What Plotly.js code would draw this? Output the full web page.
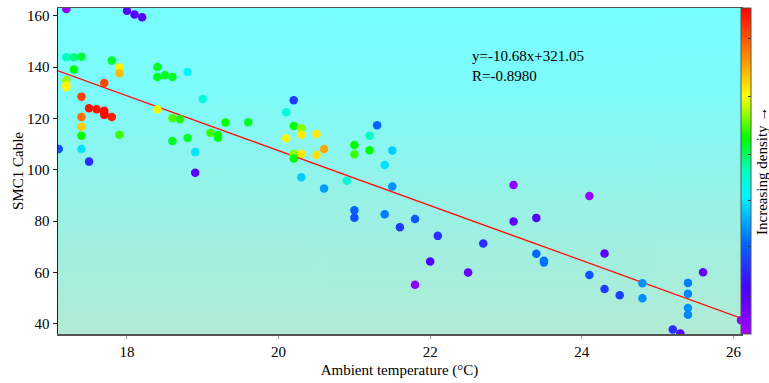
<!DOCTYPE html>
<html>
<head>
<meta charset="utf-8">
<script src="https://cdn.plot.ly/plotly-3.0.1.min.js"></script>
<style>
  html, body { margin: 0; padding: 0; background: #ffffff; }
  #chart { width: 769px; height: 383px; }
</style>
</head>
<body>
<div id="chart"></div>
<script>
// Ambient temperature (°C) for each sample
const temperature = [
  17.2, 18.0, 18.1, 18.2, 17.2, 17.3, 17.4, 17.3, 17.2, 17.2,
  17.2, 17.4, 17.4, 17.4, 17.4, 17.4, 17.1, 17.5, 17.5, 17.6,
  17.7, 17.7, 17.7, 17.8, 17.7, 17.8, 17.9, 17.9, 17.9, 18.4,
  18.4, 18.5, 18.6, 18.4, 18.6, 18.7, 18.6, 18.8, 18.8, 19.0,
  18.9, 18.9, 19.1, 19.2, 19.2, 19.3, 19.6, 20.2, 20.1, 20.2,
  20.3, 20.1, 20.3, 20.5, 20.6, 20.5, 20.3, 20.2, 20.2, 20.3,
  20.6, 20.9, 21.0, 21.0, 21.2, 21.2, 21.3, 21.5, 21.4, 21.5,
  23.1, 21.0, 21.0, 21.4, 21.8, 21.6, 22.1, 22.7, 22.0, 22.5,
  21.8, 23.1, 24.1, 23.4, 23.4, 23.5, 23.5, 24.3, 24.1, 24.3,
  24.5, 24.8, 24.8, 25.4, 25.4, 25.4, 25.4, 25.6, 25.2, 25.3,
  26.1
];

// SMC1 cable reading for each sample
const smcCable = [
  162.6, 161.9, 160.5, 159.4, 143.8, 143.8, 144.0, 139.1, 134.9, 132.8,
  132.2, 128.5, 120.6, 116.8, 113.3, 108.1, 108.1, 103.2, 124.0, 123.6,
  123.0, 122.0, 121.4, 120.6, 133.8, 142.6, 139.9, 137.6, 113.7, 140.0,
  136.1, 136.8, 136.1, 123.6, 120.1, 119.7, 111.2, 112.4, 138.1, 127.6,
  106.9, 98.9, 114.4, 113.6, 112.5, 118.4, 118.5, 127.1, 122.4, 117.1,
  116.2, 112.3, 113.7, 114.0, 108.1, 105.8, 106.3, 106.2, 104.4, 97.1,
  92.7, 95.8, 109.7, 106.1, 113.3, 107.6, 117.4, 107.5, 101.9, 93.5,
  94.1, 84.3, 81.4, 82.7, 80.9, 77.7, 74.3, 71.3, 64.3, 60.0,
  55.3, 79.9, 89.8, 81.3, 67.3, 64.6, 63.9, 67.4, 59.1, 53.6,
  51.2, 55.9, 50.0, 56.0, 51.8, 46.2, 43.6, 60.1, 37.9, 36.3,
  41.5
];

// Relative point density (0 = sparse, 1 = dense)
const density = [
  0.03, 0.12, 0.12, 0.12, 0.50, 0.53, 0.57, 0.60, 0.68, 0.74,
  0.74, 0.93, 0.88, 0.78, 0.60, 0.40, 0.25, 0.20, 0.98, 0.98,
  0.99, 0.99, 0.99, 0.97, 0.92, 0.58, 0.74, 0.80, 0.63, 0.58,
  0.58, 0.58, 0.58, 0.72, 0.64, 0.62, 0.58, 0.58, 0.42, 0.47,
  0.40, 0.12, 0.63, 0.60, 0.60, 0.60, 0.58, 0.22, 0.47, 0.60,
  0.67, 0.74, 0.75, 0.75, 0.82, 0.76, 0.75, 0.67, 0.60, 0.38,
  0.33, 0.47, 0.60, 0.63, 0.50, 0.60, 0.27, 0.38, 0.40, 0.32,
  0.04, 0.27, 0.25, 0.30, 0.26, 0.22, 0.20, 0.20, 0.13, 0.10,
  0.04, 0.11, 0.03, 0.12, 0.28, 0.29, 0.29, 0.11, 0.25, 0.22,
  0.23, 0.32, 0.32, 0.30, 0.31, 0.32, 0.31, 0.10, 0.20, 0.12,
  0.03
];

// Least-squares fit reported on the chart
const fitSlope = -10.68;
const fitIntercept = 321.05;
const fitR = -0.8980;

// Axis extents and tick values
const xRange = [17.09, 26.10];
const yRange = [36.1, 163.0];
const xTicks = [18, 20, 22, 24, 26];
const yTicks = [40, 60, 80, 100, 120, 140, 160];
const densityTicks = [0.114, 0.268, 0.409, 0.551, 0.729, 0.905];

// Rainbow scale, violet (sparse) to red (dense)
const rainbow = [
  [0.00, '#a800ff'],
  [0.14, '#4a00ff'],
  [0.28, '#0068ff'],
  [0.42, '#00f4ff'],
  [0.50, '#00ffc0'],
  [0.60, '#00ff00'],
  [0.73, '#ffff00'],
  [0.86, '#ff8000'],
  [1.00, '#ff0000']
];

// Soft vertical wash behind the plotting area
function backgroundWash() {
  const c = document.createElement('canvas');
  c.width = 4; c.height = 256;
  const g = c.getContext('2d');
  const grad = g.createLinearGradient(0, 0, 0, 256);
  grad.addColorStop(0.00, '#78fefe');
  grad.addColorStop(0.25, '#7cfcfb');
  grad.addColorStop(0.55, '#95f3e8');
  grad.addColorStop(1.00, '#b2ebd5');
  g.fillStyle = grad;
  g.fillRect(0, 0, 4, 256);
  return c.toDataURL('image/png');
}

const fitX = xRange.slice();
const fitY = fitX.map(x => fitSlope * x + fitIntercept);

const serif = 'Liberation Serif, Times New Roman, serif';

const points = {
  type: 'scatter',
  mode: 'markers',
  x: temperature,
  y: smcCable,
  showlegend: false,
  hoverinfo: 'x+y',
  marker: {
    size: 8.5,
    color: density,
    cmin: 0,
    cmax: 1,
    colorscale: rainbow,
    line: { width: 0 },
    colorbar: {
      x: 1.0,
      xanchor: 'left',
      xpad: 0,
      ypad: 0,
      y: 0.5,
      yanchor: 'middle',
      len: 1,
      lenmode: 'fraction',
      thickness: 10,
      outlinewidth: 1,
      outlinecolor: '#555555',
      tickmode: 'array',
      tickvals: densityTicks,
      ticks: 'inside',
      ticklen: 3,
      tickcolor: '#333333',
      showticklabels: false
    }
  }
};

const fitLine = {
  type: 'scatter',
  mode: 'lines',
  x: fitX,
  y: fitY,
  showlegend: false,
  hoverinfo: 'skip',
  line: { color: '#ff1010', width: 1.3 }
};

const layout = {
  width: 769,
  height: 383,
  margin: { l: 58, r: 28, t: 8, b: 49, autoexpand: false },
  paper_bgcolor: '#ffffff',
  plot_bgcolor: 'rgba(0,0,0,0)',
  font: { family: serif, size: 15, color: '#000000' },
  images: [{
    source: backgroundWash(),
    xref: 'x domain', yref: 'y domain',
    x: 0, y: 1, sizex: 1, sizey: 1,
    xanchor: 'left', yanchor: 'top',
    sizing: 'stretch',
    layer: 'below'
  }],
  xaxis: {
    range: xRange,
    tickmode: 'array',
    tickvals: xTicks,
    ticks: 'outside',
    ticklen: 3,
    tickcolor: '#999999',
    showgrid: false,
    zeroline: false,
    showline: true,
    mirror: true,
    linecolor: '#555555',
    linewidth: 1.5,
    tickfont: { family: serif, size: 15 },
    title: { text: 'Ambient temperature (\u00b0C)', font: { family: serif, size: 15 }, standoff: 6 }
  },
  yaxis: {
    range: yRange,
    tickmode: 'array',
    tickvals: yTicks,
    ticks: 'outside',
    ticklen: 4,
    tickcolor: '#222222',
    showgrid: false,
    zeroline: false,
    showline: true,
    mirror: true,
    linecolor: '#222222',
    linewidth: 1.5,
    tickfont: { family: serif, size: 15 },
    title: { text: 'SMC1 Cable', font: { family: serif, size: 15 }, standoff: 0 }
  },
  annotations: [
    {
      xref: 'x domain', yref: 'y domain',
      x: 0.603, y: 0.821,
      xanchor: 'left', yanchor: 'middle',
      align: 'left',
      showarrow: false,
      text: 'y=' + fitSlope.toFixed(2) + 'x+' + fitIntercept.toFixed(2) + '<br>R=' + fitR.toFixed(4),
      font: { family: serif, size: 15, color: '#000000' }
    },
    {
      // colour bar caption, reading upward beside the bar
      xref: 'paper', yref: 'paper',
      x: 1.0307, y: 0.5,
      xanchor: 'center', yanchor: 'middle',
      textangle: -90,
      showarrow: false,
      text: 'Increasing density \u2192',
      font: { family: serif, size: 15, color: '#000000' }
    }
  ]
};

Plotly.newPlot('chart', [fitLine, points], layout, { displayModeBar: false, staticPlot: true });
</script>
</body>
</html>
